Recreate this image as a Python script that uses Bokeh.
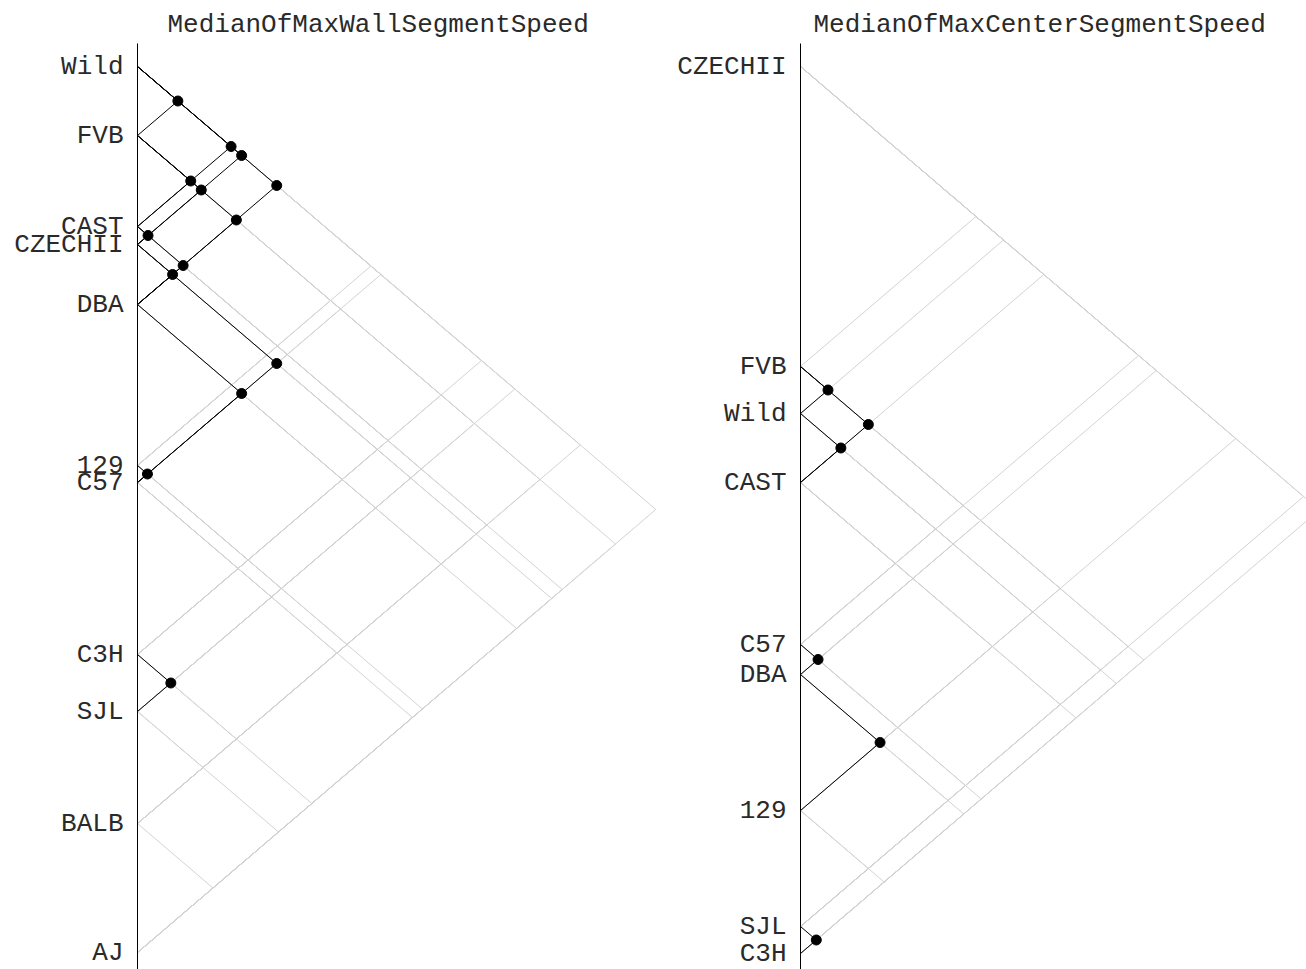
import itertools
from bokeh.plotting import figure
from bokeh.models import FixedTicker, ColumnDataSource, Range1d
from bokeh.layouts import row
from bokeh.embed import file_html
from bokeh.resources import INLINE

# ---- data -------------------------------------------------------------
wall_title = "MedianOfMaxWallSegmentSpeed"
wall_groups = ["Wild", "FVB", "CAST", "CZECHII", "DBA", "129", "C57", "C3H", "SJL", "BALB", "AJ"]
wall_values = [9.34, 8.65, 7.74, 7.56, 6.96, 5.35, 5.18, 3.46, 2.89, 1.77, 0.48]
wall_nonsig = [("Wild", "FVB"), ("Wild", "CAST"), ("Wild", "CZECHII"), ("Wild", "DBA"),
               ("FVB", "CAST"), ("FVB", "CZECHII"), ("FVB", "DBA"),
               ("CAST", "CZECHII"), ("CAST", "DBA"), ("CZECHII", "DBA"),
               ("CZECHII", "C57"), ("DBA", "C57"), ("129", "C57"), ("C3H", "SJL")]

center_title = "MedianOfMaxCenterSegmentSpeed"
center_groups = ["CZECHII", "FVB", "Wild", "CAST", "C57", "DBA", "129", "SJL", "C3H"]
center_values = [9.34, 6.34, 5.87, 5.18, 3.56, 3.26, 1.90, 0.74, 0.47]
center_nonsig = [("FVB", "Wild"), ("FVB", "CAST"), ("Wild", "CAST"),
                 ("C57", "DBA"), ("DBA", "129"), ("SJL", "C3H")]

Y_LO, Y_HI = 0.31, 9.57
PX_PER_UNIT = 117.0
FONT = "Liberation Mono"
FS = "26px"


def make_panel(title, groups, values, nonsig, width, border_left, title_offset):
    frame_w = width - border_left
    p = figure(width=width, height=969, output_backend="svg", toolbar_location=None,
               x_range=Range1d(0, frame_w / PX_PER_UNIT), y_range=Range1d(Y_LO, Y_HI),
               x_axis_location=None, min_border_left=border_left, min_border_right=0,
               min_border_top=43, min_border_bottom=0)
    p.outline_line_color = None
    p.xgrid.visible = False
    p.ygrid.visible = False

    p.title.text = title
    p.title.text_font = FONT
    p.title.text_font_size = FS
    p.title.text_font_style = "normal"
    p.title.text_color = "#2a2a2a"
    p.title.align = "left"
    p.title.offset = title_offset
    p.title.standoff = 7

    val = dict(zip(groups, values))
    ns = set(frozenset(pr) for pr in nonsig)
    gray = dict(x0=[], y0=[], x1=[], y1=[])
    black = dict(x0=[], y0=[], x1=[], y1=[])
    dots = dict(x=[], y=[])
    for a, b in itertools.combinations(groups, 2):
        va, vb = val[a], val[b]
        mid = (va + vb) / 2
        half = abs(va - vb) / 2
        tgt = black if frozenset((a, b)) in ns else gray
        for v in (va, vb):
            tgt["x0"].append(0)
            tgt["y0"].append(v)
            tgt["x1"].append(half)
            tgt["y1"].append(mid)
        if tgt is black:
            dots["x"].append(half)
            dots["y"].append(mid)

    p.segment("x0", "y0", "x1", "y1", source=ColumnDataSource(gray),
              line_color="#d3d3d3", line_width=1)
    p.segment("x0", "y0", "x1", "y1", source=ColumnDataSource(black),
              line_color="black", line_width=1)
    p.scatter("x", "y", source=ColumnDataSource(dots), size=10,
              fill_color="black", line_color="black")

    ax = p.yaxis[0]
    ax.ticker = FixedTicker(ticks=values)
    ax.major_label_overrides = {v: g for g, v in zip(groups, values)}
    ax.major_label_text_font = FONT
    ax.major_label_text_font_size = FS
    ax.major_label_text_color = "#2a2a2a"
    ax.major_label_standoff = 14
    ax.major_tick_in = 0
    ax.major_tick_out = 0
    ax.minor_tick_in = 0
    ax.minor_tick_out = 0
    ax.axis_line_color = "black"
    ax.axis_line_width = 1
    return p


p1 = make_panel(wall_title, wall_groups, wall_values, wall_nonsig, 673, 137, 30)
p2 = make_panel(center_title, center_groups, center_values, center_nonsig, 633, 127, 13)
layout = row(p1, p2)

open("out.html", "w").write(file_html(layout, INLINE))
